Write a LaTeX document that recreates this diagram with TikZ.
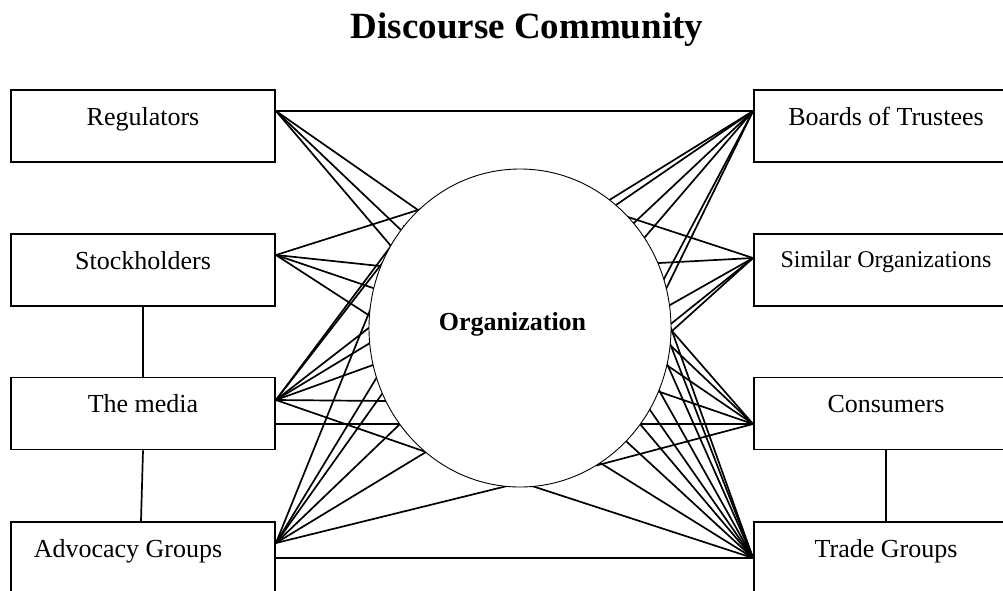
\documentclass[tikz,border=0pt]{standalone}
\usepackage{fontspec}
\setmainfont{Liberation Serif}
\usetikzlibrary{calc,shapes.geometric}
\begin{document}
\begin{tikzpicture}[x=1pt,y=-1pt,
  box/.style={draw,line width=1.9pt,minimum width=264pt,minimum height=72pt,inner sep=0pt,
    text height=35pt,text depth=37pt,font=\fontsize{26}{30}\selectfont},
  fan/.style={line width=1.7pt,shorten >=-6pt},
  link/.style={line width=1.7pt}]
\useasboundingbox (0,0) rectangle (1003,590);
\clip (0,0) rectangle (1003,590);

% title
\node[font=\bfseries\fontsize{37}{44}\selectfont,anchor=base] (title) at (527,38) {Discourse Community};

% boxes
\node[box] (reg) at (143,126) {Regulators};
\node[box] (stk) at (143,270) {Stockholders};
\node[box] (med) at (143,413.5) {The media};
\node[box] (adv) at (143,558) {Advocacy Groups\hspace*{30pt}};
\node[box] (brd) at (886,126) {Boards of Trustees};
\node[box,font=\fontsize{24}{28}\selectfont,text height=33pt,text depth=39pt] (sim) at (886,270) {Similar Organizations};
\node[box] (con) at (886,413.5) {Consumers};
\node[box] (trd) at (886,558) {Trade Groups};

% vertical links
\draw[link] (stk.south) -- (med.north);
\draw[link] (med.south) -- ([xshift=-2pt]adv.north);
\draw[link] (con.south) -- (trd.north);

% box anchors for the fans
\coordinate (aR) at ([yshift=15pt]reg.east);
\coordinate (aS) at ([yshift=15pt]stk.east);
\coordinate (aM) at ([yshift=13.5pt]med.east);
\coordinate (aA) at ([yshift=15pt]adv.east);
\coordinate (aB) at ([yshift=15pt]brd.west);
\coordinate (aSO) at ([yshift=12pt]sim.west);
\coordinate (aC) at ([yshift=-10.5pt]con.west);
\coordinate (aT) at (trd.west);

% points on the left arc
\coordinate (L1) at (418,210);
\coordinate (L2) at (402,231);
\coordinate (L3) at (391,246);
\coordinate (L4) at (380,266);
\coordinate (L5) at (373,288);
\coordinate (L6) at (370,316);
\coordinate (L7) at (370,327);
\coordinate (L8) at (370,343);
\coordinate (L9) at (373,365);
\coordinate (L10) at (377,377);
\coordinate (L11) at (382,394);
\coordinate (L12) at (387,401);
\coordinate (L13) at (400,424);
\coordinate (L14) at (426,452);
\coordinate (L15) at (503,487);
% points on the right arc
\coordinate (Q1) at (611,199);
\coordinate (Q2) at (616,205);
\coordinate (Q3) at (628,217);
\coordinate (Q4) at (636,221);
\coordinate (Q5) at (645,237);
\coordinate (Q6) at (659,263);
\coordinate (Q7) at (665,277);
\coordinate (Q8) at (667,287);
\coordinate (Q9) at (670,305);
\coordinate (Q10) at (672,323);
\coordinate (Q11) at (672,331);
\coordinate (Q12) at (671,346);
\coordinate (Q14) at (668,366);
\coordinate (Q15) at (660,392);
\coordinate (Q16) at (650,410);
\coordinate (Q17) at (640,424);
\coordinate (Q18) at (627,442);
\coordinate (Q19) at (602,464);
\coordinate (Q20) at (535,487);

% straight links between boxes
\draw[link] (aR) -- (aB);
\draw[link] (aC) -- (aC -| med.east);
\draw[link] (adv.east) -- (trd.west);

% fans
\foreach \p in {L1,L2,L3} \draw[fan] (aR) -- (\p);
\foreach \p in {L1,L4,L5,L6} \draw[fan] (aS) -- (\p);
\foreach \p in {L3,L4,L7,L8,L9,L12,L14} \draw[fan] (aM) -- (\p);
\foreach \p in {L2,L10,L11,L13,L14,L15} \draw[fan] (aA) -- (\p);
\foreach \p in {Q1,Q2,Q4,Q5,Q7,Q8} \draw[fan] (aB) -- (\p);
\foreach \p in {Q3,Q6,Q9,Q10,Q11} \draw[fan] (aSO) -- (\p);
\foreach \p in {Q11,Q12,Q14,Q15,Q19} \draw[fan] (aC) -- (\p);
\foreach \p in {Q11,Q12,Q14,Q15,Q16,Q17,Q18,Q19,Q20} \draw[fan] (aT) -- (\p);

% the organization
\node[draw,fill=white,ellipse,line width=0.9pt,minimum width=302pt,minimum height=318pt,inner sep=0pt] (org) at (520,328) {};
\node[font=\bfseries\fontsize{26}{30}\selectfont,anchor=base] (orgt) at (512.5,330) {Organization};
\end{tikzpicture}
\end{document}
